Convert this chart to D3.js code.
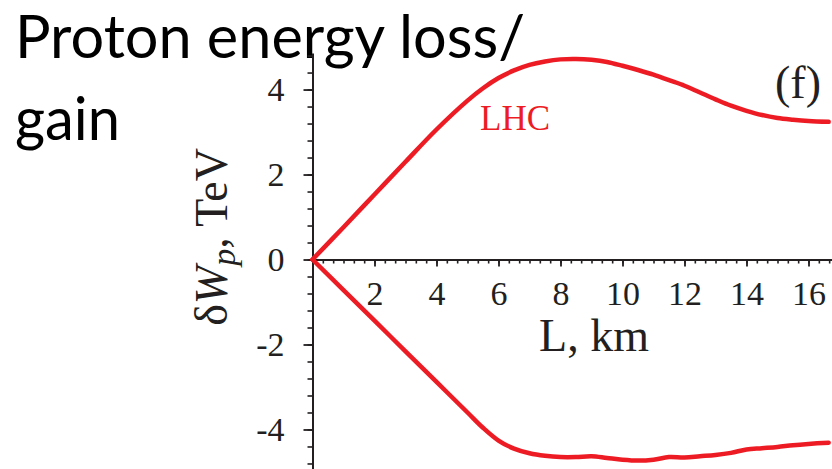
<!DOCTYPE html>
<html>
<head>
<meta charset="utf-8">
<script src="https://cdn.jsdelivr.net/npm/d3@7"></script>
<style>
  body { margin: 0; background: #fff; }
  svg { display: block; }
  .axis path, .axis line { stroke: #231f20; }
  .axis text { font-family: "Liberation Serif", "Times New Roman", serif; fill: #231f20; }
</style>
</head>
<body>
<div id="chart"></div>
<script>
// data (L in km, energy change in TeV)
const lengthKm = [0, 1, 2, 3, 4, 5, 5.5, 6, 6.5, 7, 7.5, 8, 8.5, 9, 9.5, 10, 10.5, 11, 11.5, 12, 12.5, 13, 13.5, 14, 14.5, 15, 15.5, 16, 16.65];
const gainTeV = [0, 0.76, 1.53, 2.3, 3.06, 3.74, 4.03, 4.27, 4.45, 4.58, 4.66, 4.71, 4.72, 4.7, 4.65, 4.56, 4.46, 4.35, 4.22, 4.09, 3.93, 3.77, 3.62, 3.5, 3.4, 3.33, 3.29, 3.26, 3.24];
const lossTeV = [0, -0.72, -1.44, -2.16, -2.88, -3.6, -3.96, -4.26, -4.45, -4.56, -4.62, -4.65, -4.65, -4.63, -4.67, -4.71, -4.73, -4.71, -4.65, -4.66, -4.63, -4.6, -4.55, -4.47, -4.44, -4.41, -4.37, -4.34, -4.31];

const xMajor = [2, 4, 6, 8, 10, 12, 14, 16];
const yMajor = [-4, -2, 0, 2, 4];

const width = 832, height = 469;
const red = "#ed1c24";

const svg = d3.select("#chart").append("svg").attr("width", width).attr("height", height);

// scales
const x = d3.scaleLinear().domain([0, 16.8]).range([312.5, 833.3]);
const y = d3.scaleLinear().domain([-4.93, 4.86]).range([469, 53]);

// title (slide text)
const title = svg.append("g").style("font-family", "Lato, 'Open Sans', sans-serif").style("font-size", "60px").attr("fill", "#000");
title.append("text").attr("x", 15).attr("y", 58).attr("textLength", 510).attr("lengthAdjust", "spacingAndGlyphs").text("Proton energy loss/");
title.append("text").attr("x", 15).attr("y", 140).attr("textLength", 105).attr("lengthAdjust", "spacingAndGlyphs").text("gain");

// minor ticks
const xMinor = d3.range(1, 51).map(i => i / 3).filter(v => v < 16.8);
const yMinor = d3.range(-12, 13).map(i => i * 0.4).filter(v => v > -4.93 && v < 4.86);

svg.append("g").attr("class", "axis").attr("transform", `translate(0, ${y(0)})`)
  .call(d3.axisBottom(x).tickValues(xMinor).tickSize(4).tickSizeOuter(0).tickFormat(""))
  .call(g => g.select(".domain").remove())
  .selectAll("line").attr("stroke-width", 1.6);

svg.append("g").attr("class", "axis").attr("transform", `translate(${x(0)}, 0)`)
  .call(d3.axisLeft(y).tickValues(yMinor).tickSize(5).tickSizeOuter(0).tickFormat(""))
  .call(g => g.select(".domain").remove())
  .selectAll("line").attr("stroke-width", 1.6);

// major ticks + labels
const xAxis = svg.append("g").attr("class", "axis").attr("transform", `translate(0, ${y(0)})`)
  .call(d3.axisBottom(x).tickValues(xMajor).tickSize(7).tickSizeOuter(0).tickPadding(14).tickFormat(d3.format("d")));
xAxis.select(".domain").attr("stroke-width", 2);
xAxis.selectAll("line").attr("stroke-width", 1.8);
xAxis.selectAll("text").style("font-size", "34px");

const yAxis = svg.append("g").attr("class", "axis").attr("transform", `translate(${x(0)}, 0)`)
  .call(d3.axisLeft(y).tickValues(yMajor).tickSize(9).tickSizeOuter(0).tickPadding(19).tickFormat(d => d < 0 ? "-" + Math.abs(d) : d));
yAxis.select(".domain").attr("stroke-width", 2);
yAxis.selectAll("line").attr("stroke-width", 1.8);
yAxis.selectAll("text").style("font-size", "34px");

// axis titles
svg.append("text").attr("x", 594).attr("y", 351).attr("text-anchor", "middle")
  .style("font-family", "'Liberation Serif', serif").style("font-size", "46px").attr("fill", "#231f20")
  .text("L, km");

const yt = svg.append("text").attr("transform", "translate(227, 237) rotate(-90)").attr("text-anchor", "middle")
  .style("font-family", "'Liberation Serif', serif").style("font-size", "46px").attr("fill", "#231f20");
yt.append("tspan").text("δ");
yt.append("tspan").style("font-style", "italic").text("W");
yt.append("tspan").style("font-style", "italic").attr("dy", 8).style("font-size", "34px").text("p");
yt.append("tspan").attr("dy", -8).text(", TeV");

// curves
const line = d3.line().x(d => x(d[0])).y(d => y(d[1])).curve(d3.curveCatmullRom);
[gainTeV, lossTeV].forEach(vals => {
  svg.append("path").datum(lengthKm.map((l, i) => [l, vals[i]]))
    .attr("d", line).attr("fill", "none").attr("stroke", red).attr("stroke-width", 4.5)
    .attr("stroke-linecap", "round").attr("stroke-linejoin", "round");
});

// labels
svg.append("text").attr("x", 480).attr("y", 130)
  .style("font-family", "'Liberation Serif', serif").style("font-size", "35px").attr("fill", red).text("LHC");
svg.append("text").attr("x", 775).attr("y", 98)
  .style("font-family", "'Liberation Serif', serif").style("font-size", "46px").attr("fill", "#231f20").text("(f)");
</script>
</body>
</html>
